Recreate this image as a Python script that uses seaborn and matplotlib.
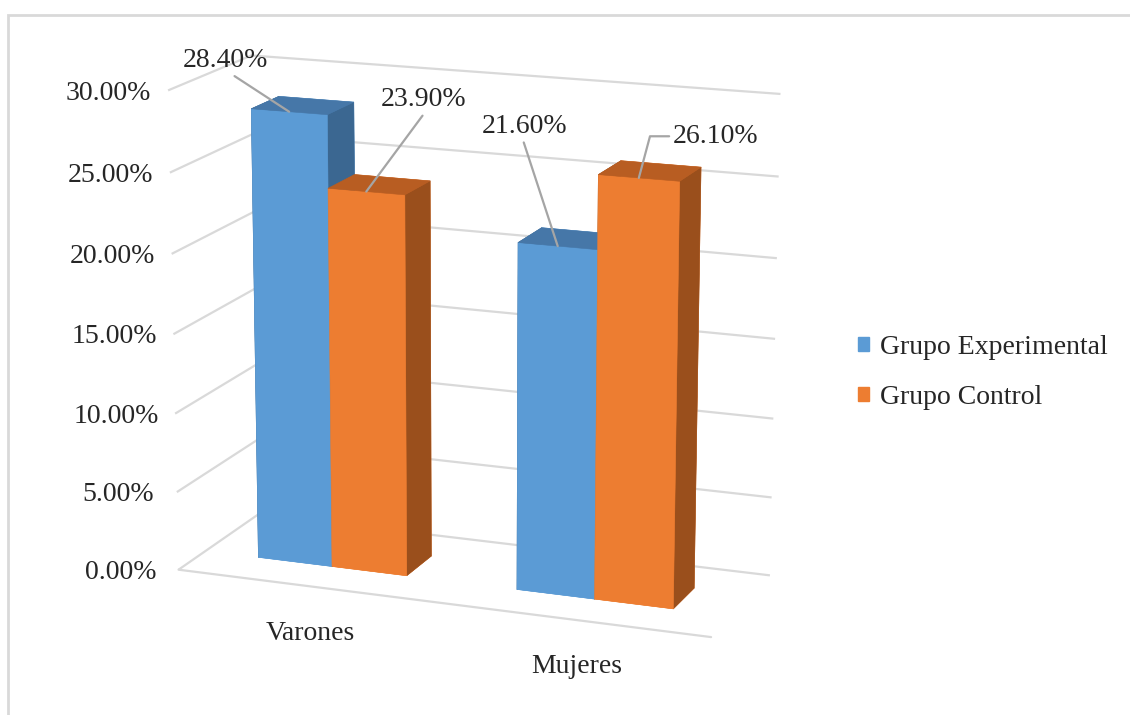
import matplotlib
matplotlib.use("Agg")
import matplotlib.pyplot as plt
import seaborn as sns
from matplotlib.patches import Patch, Rectangle
from matplotlib.ticker import FuncFormatter
from mpl_toolkits.mplot3d import proj3d

# data
categories = ["Varones", "Mujeres"]
series = ["Grupo Experimental", "Grupo Control"]
experimental = [28.4, 21.6]
control = [23.9, 26.1]
z_ticks = [0, 5, 10, 15, 20, 25, 30]

sns.set_style("white")
plt.rcParams["font.family"] = ["Liberation Serif", "DejaVu Serif"]

front = sns.color_palette(["#5B9BD5", "#ED7D31"])
top = ["#4677A8", "#B85D22"]
side = ["#3B6791", "#9A4F1C"]
grid_col = "#d9d9d9"
fs = 20

fig = plt.figure(figsize=(11.3, 7.15), dpi=100)
ax = fig.add_axes([0.03, -0.015, 0.76, 1.06], projection="3d",
                  proj_type="persp", focal_length=0.9)

w = 0.29      # bar width
y0 = 0.33     # bar front
dy = 0.34     # bar depth

xs, vals, cols = [], [], []
for s, values in enumerate([experimental, control]):
    for i, v in enumerate(values):
        xs.append(i - w + s * w)
        vals.append(v)
        # -z, +z, -y, +y, -x, +x
        cols += [front[s], top[s], front[s], front[s], side[s], side[s]]

ax.bar3d(xs, [y0] * len(xs), [0] * len(xs), w, dy, vals,
         color=cols, edgecolors=cols, linewidth=0.4, shade=False)

# floor front edge
ax.plot([-0.5, 1.5], [0, 0], [0, 0], color=grid_col, lw=1.6)

ax.set_xlim(-0.5, 1.5)
ax.set_ylim(0, 1)
ax.set_zlim(0, 30)
ax.set_box_aspect((2, 0.7, 1.75), zoom=1.0)
ax.view_init(elev=15, azim=-69)

ax.set_xticks([])
ax.set_yticks([])
ax.set_zticks(z_ticks)
ax.zaxis.set_major_formatter(FuncFormatter(lambda v, p: f"{v:.2f}%"))
ax.zaxis.set_ticks_position("lower")
ax.tick_params(axis="z", labelsize=fs, pad=20)
for lab in ax.zaxis.get_majorticklabels():
    lab.set_va("center_baseline")

for axis in (ax.xaxis, ax.yaxis, ax.zaxis):
    axis.set_pane_color((1, 1, 1, 0))
    axis.pane.set_edgecolor((1, 1, 1, 0))
    axis.line.set_color((1, 1, 1, 0))
ax.zaxis._axinfo["grid"].update(color=grid_col, linewidth=1.6)
ax.zaxis._axinfo["tick"].update(inward_factor=0, outward_factor=0)

M = ax.get_proj()

def to2d(x, y, z):
    px, py, _ = proj3d.proj_transform(x, y, z, M)
    return px, py

# data labels with leader lines
offsets = {(0, 0): (-46, 37), (0, 1): (41, 66), (1, 0): (-24, 86), (1, 1): (55, 30)}
relpos = {(0, 0): (0.55, 0), (0, 1): (0.52, 0), (1, 0): (0.48, 0), (1, 1): (0, 0.5)}
for s, values in enumerate([experimental, control]):
    for i, v in enumerate(values):
        xy = to2d(i - w + s * w + w / 2, y0, v)
        conn = "angle,angleA=0,angleB=75,rad=0" if (i, s) == (1, 1) else "arc3"
        ax.annotate(f"{v:.2f}%", xy=xy, xytext=offsets[(i, s)],
                    textcoords="offset points", ha="center", va="center",
                    fontsize=fs,
                    arrowprops=dict(arrowstyle="-", color="#a5a5a5", lw=1.6,
                                    shrinkA=0, shrinkB=0,
                                    relpos=relpos[(i, s)],
                                    connectionstyle=conn))

# category labels
for i, c in enumerate(categories):
    ax.annotate(c, xy=to2d(i, 0, 0), xytext=(3, -34),
                textcoords="offset points", ha="center", va="center",
                fontsize=fs)

handles = [Patch(color=front[s], label=series[s]) for s in range(2)]
fig.legend(handles=handles, loc="center left",
           bbox_to_anchor=(833 / 1130, 1 - 372 / 715), frameon=False,
           fontsize=fs, handlelength=0.4, handleheight=0.4,
           handletextpad=0.4, labelspacing=0.9)

fig.patches.append(Rectangle((8 / 1130, -0.1), 1.1, 1.1 - 15 / 715,
                             transform=fig.transFigure, fill=False,
                             edgecolor=grid_col, lw=2))

fig.savefig("out.png", dpi=100)
